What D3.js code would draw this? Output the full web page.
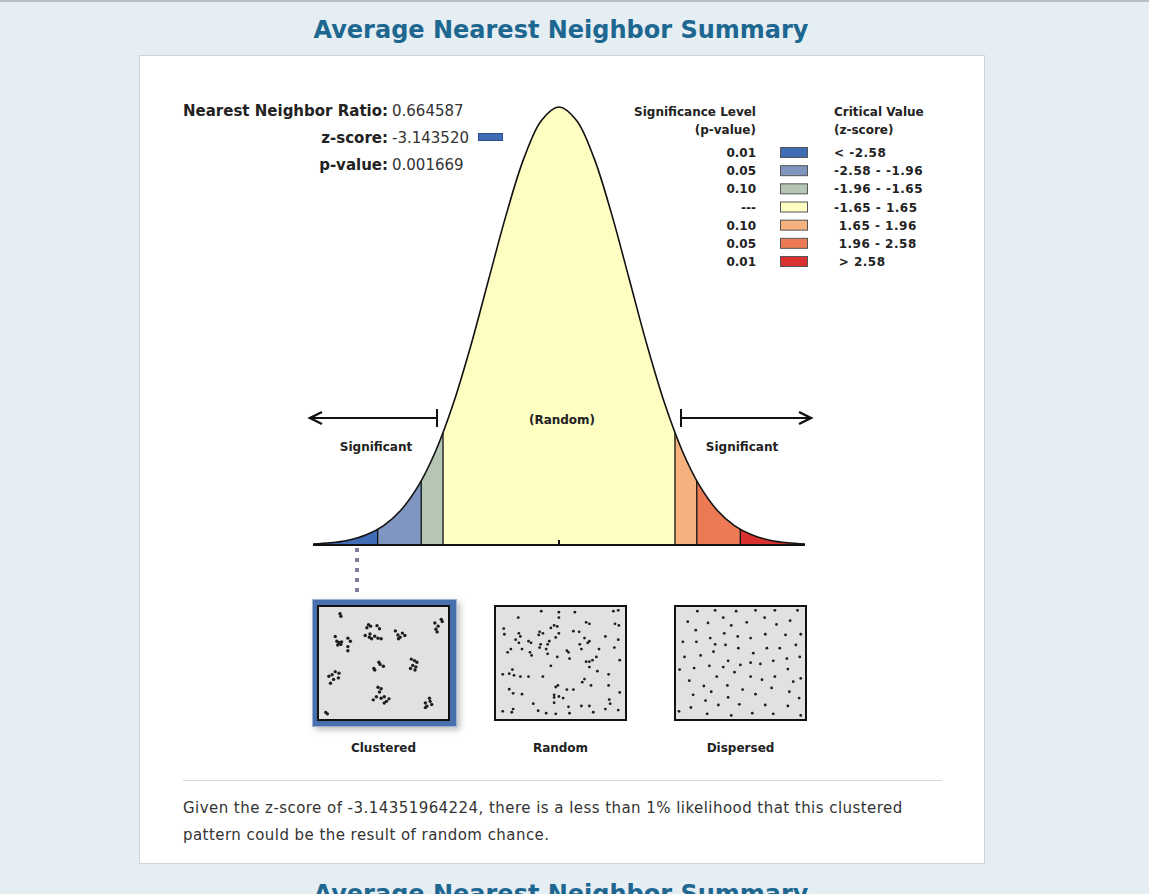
<!DOCTYPE html>
<html>
<head>
<meta charset="utf-8">
<script src="https://cdn.jsdelivr.net/npm/d3@7"></script>
<style>
  body { margin: 0; background: #e5eef3; overflow: hidden; }
  svg { display: block; }
  text { font-family: "DejaVu Sans", Verdana, sans-serif; }
</style>
</head>
<body>
<svg id="chart" width="1149" height="894"></svg>
<script>
// ---- data ----
const titleText = "Average Nearest Neighbor Summary";
const summaryLabels = ["Nearest Neighbor Ratio:", "z-score:", "p-value:"];
const summaryValues = ["0.664587", "-3.143520", "0.001669"];

// band edges (z-score) and colours, left tail to right tail
const zBreaks = [-3.5, -2.58, -1.96, -1.65, 1.65, 1.96, 2.58, 3.5];
const bandColors = ["#3f6cb4", "#7f96c1", "#b6c6b4", "#fefdc2", "#f6b27e", "#ec7b55", "#d8312f"];
const pValues = ["0.01", "0.05", "0.10", "---", "0.10", "0.05", "0.01"];
const criticalValues = ["< -2.58", "-2.58 - -1.96", "-1.96 - -1.65", "-1.65 - 1.65", " 1.65 - 1.96", " 1.96 - 2.58", " > 2.58"];

// bell curve (z, density)
const curveZ = [-3.5, -3.25, -3, -2.75, -2.5, -2.25, -2, -1.75, -1.5, -1.25, -1, -0.75, -0.5, -0.25, 0,
                0.25, 0.5, 0.75, 1, 1.25, 1.5, 1.75, 2, 2.25, 2.5, 2.75, 3, 3.25, 3.5];
const curveDensity = [0.0009, 0.0020, 0.0044, 0.0091, 0.0175, 0.0317, 0.0540, 0.0863, 0.1295, 0.1826, 0.2420, 0.3011, 0.3521, 0.3867, 0.3989,
                      0.3867, 0.3521, 0.3011, 0.2420, 0.1826, 0.1295, 0.0863, 0.0540, 0.0317, 0.0175, 0.0091, 0.0044, 0.0020, 0.0009];

const patternNames = ["Clustered", "Random", "Dispersed"];
// point patterns, in percent of each box
const clusteredPts = [[15.2,4.3],[15.9,6.7],[11.4,25.5],[12.7,29.9],[14.4,31.0],[15.9,32.8],[13.4,33.3],[16.5,30.4],[21.5,27.0],[23.5,29.9],
  [21.5,34.8],[21.5,38.6],[38.0,14.5],[39.7,15.9],[36.7,17.4],[44.8,15.4],[46.8,18.3],[35.4,24.6],[38.7,26.1],[40.5,27.5],[43.0,25.2],
  [45.6,27.0],[48.1,27.5],[39.2,23.2],[59.5,20.3],[61.5,24.1],[63.3,26.1],[65.1,22.3],[67.1,24.6],[62.0,27.5],[91.1,13.0],[93.7,15.9],
  [91.9,18.8],[96.2,9.6],[97.0,11.6],[92.9,21.2],[6.3,62.3],[8.9,60.9],[11.4,58.0],[14.4,59.4],[13.9,63.8],[10.1,65.2],[7.6,68.7],
  [42.3,55.1],[46.3,49.3],[47.3,51.3],[49.9,53.0],[43.0,56.5],[72.2,46.4],[74.7,47.8],[76.7,49.3],[73.4,52.2],[71.6,55.1],[75.2,56.5],
  [75.9,53.6],[45.6,72.5],[48.1,73.9],[46.8,76.8],[44.3,81.2],[41.8,84.1],[48.1,82.6],[50.6,81.2],[52.4,85.5],[54.4,83.2],[50.6,87.0],
  [83.5,87.0],[84.8,89.9],[87.3,85.5],[88.6,88.4],[86.8,82.6],[83.5,91.3],[3.8,95.7],[5.1,97.1]];
const randomPts = [[16.2,7.9],[34.6,2.0],[48.7,2.9],[48.7,7.9],[61.5,2.9],[70.5,12.3],[73.1,13.7],[92.3,2.0],[96.2,1.2],[93.6,13.7],
  [96.7,15.2],[4.6,18.1],[5.1,23.4],[16.7,22.5],[17.9,25.4],[14.1,28.4],[16.7,31.3],[24.4,29.8],[26.4,31.3],[33.3,21.1],[35.9,22.5],
  [32.6,24.0],[34.1,32.7],[42.3,17.5],[44.9,15.2],[47.4,16.1],[48.7,22.5],[46.2,26.3],[41.0,29.8],[39.7,32.7],[60.3,20.5],[64.9,21.1],
  [69.2,26.9],[73.1,29.8],[71.8,31.3],[85.9,25.4],[96.2,28.4],[7.7,40.1],[10.3,37.1],[19.2,37.1],[25.6,40.1],[26.9,43.0],[33.3,35.7],
  [38.5,37.1],[39.7,41.5],[47.4,44.4],[55.1,38.6],[56.4,40.1],[57.2,45.9],[65.4,32.7],[66.7,37.1],[80.8,37.1],[93.1,35.7],[3.8,60.5],
  [9.0,59.9],[11.5,56.1],[12.8,61.4],[17.9,62.6],[24.4,62.6],[35.9,62.6],[42.3,52.6],[70.5,48.8],[73.1,48.8],[75.6,47.4],[73.1,53.8],
  [78.7,44.4],[79.5,57.6],[88.5,60.5],[97.4,47.4],[88.5,70.8],[69.2,64.9],[67.4,67.8],[74.4,70.8],[9.0,74.3],[12.1,78.1],[19.2,78.9],
  [46.2,72.2],[47.9,70.8],[44.9,79.5],[44.9,81.9],[48.7,81.0],[52.1,82.5],[55.1,74.6],[60.3,74.6],[44.9,86.8],[3.8,94.7],[11.0,95.6],
  [12.1,92.7],[28.2,87.7],[32.1,94.2],[38.5,96.5],[46.2,97.1],[56.4,90.6],[57.2,96.5],[66.7,89.8],[73.1,89.8],[76.2,95.6],[85.9,92.7],
  [89.7,87.7],[89.0,83.9],[96.2,93.6],[97.4,77.2]];
const dispersedPts = [[15.5,2.0],[29.7,1.2],[46.5,2.0],[62.0,1.2],[77.5,1.2],[95.6,1.2],[7.8,11.7],[24.0,12.9],[36.2,7.9],[55.0,12.3],
  [69.3,7.9],[78.8,14.3],[89.7,10.8],[42.6,15.2],[14.2,19.6],[25.8,26.9],[37.0,22.5],[47.8,25.4],[58.1,26.9],[69.8,23.4],[86.0,24.0],
  [98.2,23.4],[3.9,30.4],[14.7,30.4],[29.7,32.7],[38.0,33.3],[48.3,36.3],[60.2,40.9],[71.1,36.3],[81.4,36.3],[94.3,33.3],[18.1,43.0],
  [28.4,39.5],[5.2,44.4],[40.1,48.0],[49.9,51.8],[58.1,49.7],[65.9,50.9],[76.2,48.0],[87.1,45.9],[97.4,44.4],[12.9,54.7],[25.1,52.6],
  [36.2,53.8],[45.2,58.5],[87.9,55.6],[9.0,66.4],[31.0,62.6],[58.1,62.6],[67.2,65.5],[77.5,62.6],[92.2,67.3],[98.2,64.3],[1.3,56.1],
  [20.7,71.3],[39.5,70.8],[51.7,74.6],[74.9,73.1],[89.1,76.6],[12.1,79.5],[26.6,76.6],[62.0,78.9],[96.9,82.5],[40.1,81.9],[22.0,84.8],
  [32.3,88.9],[10.3,91.2],[49.1,88.3],[69.8,88.9],[87.9,89.8],[0.8,94.7],[23.3,97.1],[42.6,98.5],[59.4,96.5],[76.2,97.1],[98.2,98.5]];
const summarySentence = [
  "Given the z-score of -3.14351964224, there is a less than 1% likelihood that this clustered",
  "pattern could be the result of random chance."
];

// ---- layout ----
const svg = d3.select("#chart");
const titleColor = "#1d6790";
const ink = "#222";

// top grey rule
svg.append("rect").attr("x", 0).attr("y", 0).attr("width", 1149).attr("height", 2).attr("fill", "#b9bec6");

// titles (the second one is cut off by the bottom edge, as in the screenshot)
[38, 902].forEach(y => {
  svg.append("text")
    .attr("x", 561).attr("y", y)
    .attr("text-anchor", "middle")
    .style("font-size", "24px").style("font-weight", "bold")
    .attr("fill", titleColor)
    .text(titleText);
});

// white panel
svg.append("rect")
  .attr("x", 139.5).attr("y", 55.5).attr("width", 845).attr("height", 808)
  .attr("fill", "#fff").attr("stroke", "#cfd3d6");

// summary text block
const summary = svg.append("g");
summaryLabels.forEach((lab, i) => {
  summary.append("text")
    .attr("x", 388).attr("y", 116 + i * 27)
    .attr("text-anchor", "end")
    .style("font-size", "15px").style("font-weight", "bold")
    .attr("fill", ink).text(lab);
  summary.append("text")
    .attr("x", 392).attr("y", 116 + i * 27)
    .style("font-size", "15px")
    .attr("fill", "#333").text(summaryValues[i]);
});
summary.append("rect")
  .attr("x", 478.5).attr("y", 133.5).attr("width", 24).attr("height", 7)
  .attr("fill", bandColors[0]).attr("stroke", "#2b4f8a");

// ---- bell curve ----
const x = d3.scaleLinear().domain([-3.5, 3.5]).range([313, 805]);
const y = d3.scaleLinear().domain([0, 0.3989]).range([545, 107]);
const pts = curveZ.map((z, i) => [z, curveDensity[i]]);

const area = d3.area()
  .x(d => x(d[0])).y0(y(0)).y1(d => y(d[1]))
  .curve(d3.curveCatmullRom);
const line = d3.line()
  .x(d => x(d[0])).y(d => y(d[1]))
  .curve(d3.curveCatmullRom);

svg.append("clipPath").attr("id", "bell")
  .append("path").attr("d", area(pts));

const bell = svg.append("g").attr("clip-path", "url(#bell)");
bandColors.forEach((c, i) => {
  bell.append("rect")
    .attr("x", x(zBreaks[i])).attr("y", y(0.41))
    .attr("width", x(zBreaks[i + 1]) - x(zBreaks[i]))
    .attr("height", y(0) - y(0.41))
    .attr("fill", c);
});
zBreaks.slice(1, -1).forEach(z => {
  bell.append("line")
    .attr("x1", x(z)).attr("x2", x(z))
    .attr("y1", y(0)).attr("y2", y(0.41))
    .attr("stroke", "#111").attr("stroke-width", 1.3);
});

svg.append("path").attr("d", line(pts))
  .attr("fill", "none").attr("stroke", "#111").attr("stroke-width", 1.6);
svg.append("line")
  .attr("x1", x(-3.5)).attr("x2", x(3.5)).attr("y1", y(0)).attr("y2", y(0))
  .attr("stroke", "#111").attr("stroke-width", 2.2);
svg.append("line")
  .attr("x1", x(0)).attr("x2", x(0)).attr("y1", y(0) - 5).attr("y2", y(0))
  .attr("stroke", "#111").attr("stroke-width", 2);

// arrows + labels
function arrow(xBar, xTip) {
  const g = svg.append("g").attr("stroke", "#111").attr("fill", "none").attr("stroke-width", 2);
  const ay = 418, dir = Math.sign(xTip - xBar);
  g.append("line").attr("x1", xBar).attr("x2", xTip).attr("y1", ay).attr("y2", ay);
  g.append("line").attr("x1", xBar).attr("x2", xBar).attr("y1", ay - 9).attr("y2", ay + 9);
  g.append("path")
    .attr("d", `M${xTip - dir * 12},${ay - 6} L${xTip},${ay} L${xTip - dir * 12},${ay + 6}`)
    .attr("stroke-width", 2.4);
}
arrow(437, 310);
arrow(681, 811);

const smallLabel = (tx, ty, s) => svg.append("text")
  .attr("x", tx).attr("y", ty).attr("text-anchor", "middle")
  .style("font-size", "12px").style("font-weight", "bold")
  .attr("fill", ink).text(s);
smallLabel(376, 451, "Significant");
smallLabel(742, 451, "Significant");
smallLabel(x(0) + 3, 424, "(Random)");

// ---- legend ----
const legend = svg.append("g");
const legText = (tx, ty, s, anchor) => legend.append("text")
  .attr("x", tx).attr("y", ty).attr("text-anchor", anchor)
  .style("font-size", "12px").style("font-weight", "bold")
  .attr("fill", ink).text(s);
legText(756, 116, "Significance Level", "end");
legText(756, 134, "(p-value)", "end");
legText(834, 116, "Critical Value", "start");
legText(834, 134, "(z-score)", "start");
const rowY = d3.scaleLinear().domain([0, 6]).range([153, 262]);
pValues.forEach((p, i) => {
  legText(756, rowY(i) + 4, p, "end");
  legend.append("rect")
    .attr("x", 780.5).attr("y", rowY(i) - 5.5).attr("width", 27).attr("height", 10)
    .attr("fill", bandColors[i]).attr("stroke", "#555");
  legText(834, rowY(i) + 4, criticalValues[i], "start")
    .attr("xml:space", "preserve").style("letter-spacing", "0.5px");
});

// ---- pattern boxes ----
// dotted connector from the z-score position down to the chosen pattern
svg.append("line")
  .attr("x1", 357).attr("x2", 357).attr("y1", 548).attr("y2", 598)
  .attr("stroke", "#7b8098").attr("stroke-width", 4).attr("stroke-dasharray", "4,6");

const defs = svg.append("defs");
const f = defs.append("filter").attr("id", "shadow").attr("x", "-20%").attr("y", "-20%").attr("width", "140%").attr("height", "140%");
f.append("feDropShadow").attr("dx", 3).attr("dy", 3).attr("stdDeviation", 3).attr("flood-color", "#000").attr("flood-opacity", 0.25);

const boxes = [
  { x0: 318, pts: clusteredPts, r: 1.7 },
  { x0: 495, pts: randomPts, r: 1.4 },
  { x0: 675, pts: dispersedPts, r: 1.4 }
];
const boxW = 131, boxH = 114, boxTop = 606;

// highlighted frame around clustered
svg.append("rect")
  .attr("x", 312.5).attr("y", 599.5).attr("width", 144).attr("height", 127)
  .attr("fill", "#4a6fae").attr("stroke", "#9fb2d3").attr("filter", "url(#shadow)");

boxes.forEach((b, i) => {
  const bx = d3.scaleLinear().domain([0, 100]).range([b.x0 + 3, b.x0 + boxW - 3]);
  const by = d3.scaleLinear().domain([0, 100]).range([boxTop + 3, boxTop + boxH - 3]);
  const g = svg.append("g");
  g.append("rect")
    .attr("x", b.x0).attr("y", boxTop).attr("width", boxW).attr("height", boxH)
    .attr("fill", "#e1e1e1").attr("stroke", "#111").attr("stroke-width", 2);
  g.selectAll("circle").data(b.pts).join("circle")
    .attr("cx", d => bx(d[0])).attr("cy", d => by(d[1]))
    .attr("r", b.r).attr("fill", "#1e1e1e");
  svg.append("text")
    .attr("x", b.x0 + boxW / 2).attr("y", 752)
    .attr("text-anchor", "middle")
    .style("font-size", "12px").style("font-weight", "bold")
    .attr("fill", ink).text(patternNames[i]);
});

// separator + sentence
svg.append("line")
  .attr("x1", 183).attr("x2", 942).attr("y1", 780.5).attr("y2", 780.5)
  .attr("stroke", "#d9d9d9");
summarySentence.forEach((s, i) => {
  svg.append("text")
    .attr("x", 183).attr("y", 813 + i * 27)
    .style("font-size", "15px").style("letter-spacing", "0.45px")
    .attr("fill", "#333").text(s);
});
</script>
</body>
</html>
